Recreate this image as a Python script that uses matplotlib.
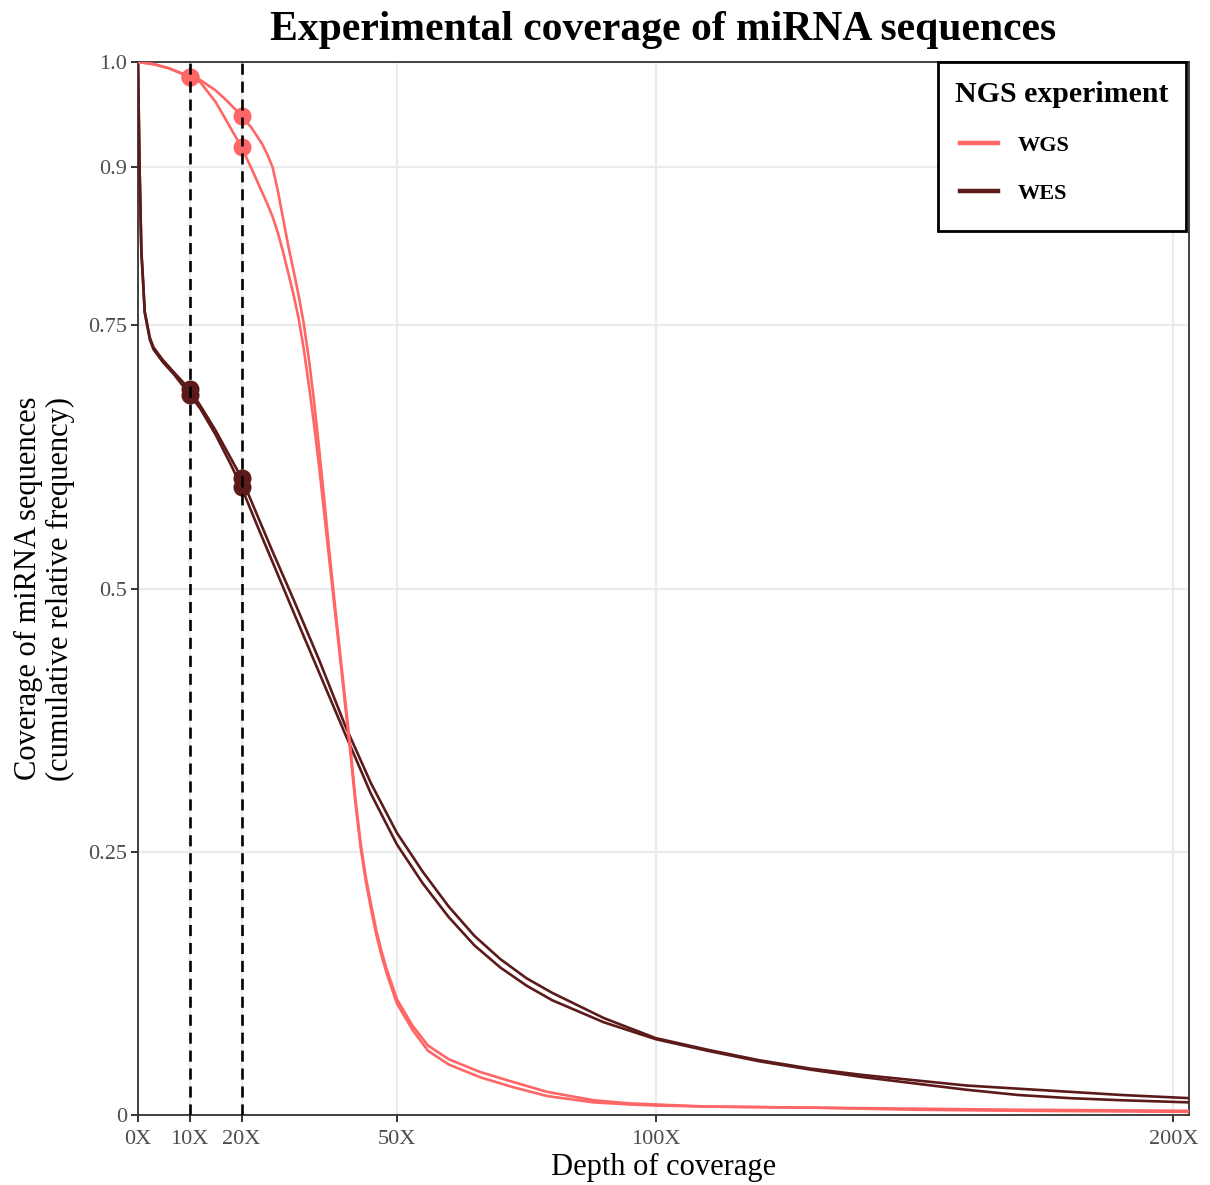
import numpy as np
import matplotlib
matplotlib.use("Agg")
import matplotlib.pyplot as plt
from matplotlib.lines import Line2D
from matplotlib.patches import Rectangle

plt.rcParams['font.family'] = ['Liberation Serif', 'DejaVu Serif']

# ---- data -----------------------------------------------------------------
wgs_x = [0, 3, 6, 8, 10, 12, 15, 17, 20, 22, 24, 25, 26, 27, 28, 29, 30, 31, 32, 33, 34, 35, 36,
         37, 38, 39, 40, 41, 42, 43, 44, 45, 46, 47, 48, 50, 53, 56, 60, 66, 72, 79, 88, 95, 100,
         110, 130, 150, 170, 203]
wgs_1 = [1.0, 0.998, 0.994, 0.99, 0.986, 0.983, 0.973, 0.964, 0.949, 0.937, 0.922, 0.912, 0.9,
         0.878, 0.852, 0.826, 0.803, 0.779, 0.752, 0.718, 0.678, 0.632, 0.583, 0.533, 0.486, 0.44,
         0.395, 0.35, 0.3, 0.258, 0.226, 0.2, 0.176, 0.156, 0.139, 0.11, 0.085, 0.066, 0.053, 0.041,
         0.032, 0.022, 0.014, 0.011, 0.010, 0.008, 0.007, 0.006, 0.005, 0.004]
wgs_2 = [1.0, 0.998, 0.994, 0.99, 0.986, 0.981, 0.962, 0.945, 0.919, 0.898, 0.876, 0.865, 0.853,
         0.838, 0.82, 0.8, 0.78, 0.757, 0.728, 0.693, 0.656, 0.615, 0.57, 0.525, 0.48, 0.436,
         0.39, 0.345, 0.296, 0.254, 0.222, 0.196, 0.172, 0.152, 0.135, 0.106, 0.081, 0.061, 0.048,
         0.036, 0.027, 0.018, 0.012, 0.010, 0.009, 0.008, 0.007, 0.005, 0.004, 0.003]

wes_x = [0, 0.3, 0.65, 1.0, 1.3, 2.3, 3, 4.8, 7, 10, 12, 15, 18, 20, 23, 26, 30, 35, 40, 45, 50,
         55, 60, 65, 70, 75, 80, 90, 100, 110, 120, 130, 140, 150, 160, 170, 180, 190, 203]
wes_1 = [1.0, 0.9, 0.82, 0.79, 0.763, 0.738, 0.729, 0.717, 0.705, 0.689, 0.674, 0.65, 0.623, 0.605,
         0.57, 0.535, 0.49, 0.432, 0.37, 0.315, 0.268, 0.231, 0.198, 0.17, 0.148, 0.13, 0.116, 0.092,
         0.073, 0.062, 0.052, 0.044, 0.038, 0.033, 0.028, 0.025, 0.022, 0.019, 0.016]
wes_2 = [1.0, 0.9, 0.82, 0.79, 0.762, 0.736, 0.727, 0.715, 0.703, 0.684, 0.671, 0.646, 0.617, 0.596,
         0.56, 0.525, 0.478, 0.42, 0.362, 0.305, 0.257, 0.22, 0.188, 0.161, 0.14, 0.123, 0.109, 0.088,
         0.072, 0.061, 0.051, 0.043, 0.036, 0.030, 0.024, 0.019, 0.016, 0.014, 0.012]

marker_depths = [10, 20]
x_ticks = [0, 10, 20, 50, 100, 200]
x_labels = ['0X', '10X', '20X', '50X', '100X', '200X']
y_ticks = [0, 0.25, 0.5, 0.75, 0.9, 1.0]
y_labels = ['0', '0.25', '0.5', '0.75', '0.9', '1.0']

WGS_COL = '#FF6666'
WES_COL = '#5C1A1A'

# ---- figure ---------------------------------------------------------------
fig = plt.figure(figsize=(12.10, 11.85), dpi=100)
ax = fig.add_axes([138/1210, 1 - 1115/1185, (1189-138)/1210, (1115-62)/1185])

ax.set_xlim(0, 203)
ax.set_ylim(0, 1)

for y in (wes_1, wes_2):
    ax.plot(wes_x, y, color=WES_COL, lw=1.9, zorder=3, solid_capstyle='butt')
    ax.plot(marker_depths, np.interp(marker_depths, wes_x, y), 'o', color=WES_COL,
            ms=13, zorder=4, mew=0)
for y in (wgs_1, wgs_2):
    ax.plot(wgs_x, y, color=WGS_COL, lw=1.9, zorder=5, solid_capstyle='butt')
    ax.plot(marker_depths, np.interp(marker_depths, wgs_x, y), 'o', color=WGS_COL,
            ms=13, zorder=6, mew=0)

for d in marker_depths:
    ax.axvline(d, color='black', lw=1.9, ls=(0, (4.2, 2.6)), zorder=7)

ax.set_xticks(x_ticks)
ax.set_xticklabels(x_labels)
ax.set_yticks(y_ticks)
ax.set_yticklabels(y_labels)
ax.grid(True, color='#EBEBEB', lw=1.6, zorder=0)
ax.set_axisbelow(True)
ax.tick_params(axis='both', which='major', labelsize=16, labelcolor='#4D4D4D',
               color='#333333', length=5, width=1.4)
ax.tick_params(axis='x', pad=6)
ax.tick_params(axis='y', pad=3)
for s in ax.spines.values():
    s.set_color('#333333')
    s.set_linewidth(1.3)

ax.set_xlabel('Depth of coverage', fontsize=22, labelpad=3)
ax.set_ylabel('Coverage of miRNA sequences\n(cumulative relative frequency)', fontsize=22,
              labelpad=9, linespacing=1.15)
ax.set_title('Experimental coverage of miRNA sequences', fontsize=30, fontweight='bold', pad=16)

# legend box (frame and title drawn separately to match ggplot spacing)
W, H = 1051, 1053
x0 = (938 - 138) / W
y0 = (1115 - 231) / H
ax.add_patch(Rectangle((x0, y0), (1186 - 938) / W, 1.0 - y0, transform=ax.transAxes,
                       facecolor='white', edgecolor='black', lw=2.0, zorder=9, clip_on=False))
ax.text((955 - 138) / W, (1115 - 95) / H, 'NGS experiment', transform=ax.transAxes,
        ha='left', va='center', fontsize=21.5, fontweight='bold', zorder=11)
handles = [Line2D([], [], color=WGS_COL, lw=3.2), Line2D([], [], color=WES_COL, lw=3.2)]
leg = ax.legend(handles, ['WGS', 'WES'], loc='upper left',
                bbox_to_anchor=((960 - 138) / W, (1115 - 135) / H), borderaxespad=0.0,
                frameon=False, prop={'weight': 'bold', 'size': 16},
                handlelength=1.71, handletextpad=0.9, labelspacing=1.24, borderpad=0.0)
leg.set_zorder(11)

fig.savefig('out.png', dpi=100)
